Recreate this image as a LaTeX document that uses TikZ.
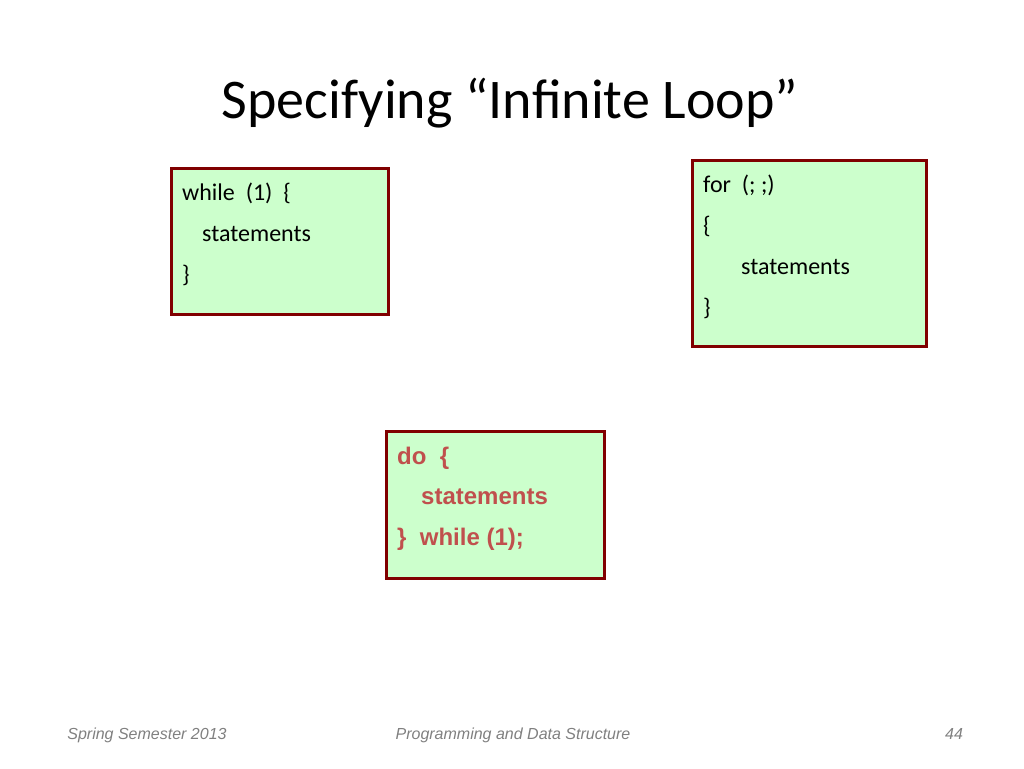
\documentclass[tikz,border=0pt]{standalone}
\usepackage{fontspec}
\setmainfont{Carlito}
\newfontfamily\arial{Liberation Sans}
\begin{document}
\begin{tikzpicture}[x=1pt,y=-1pt,
  box/.style={draw=red!50!black,line width=3pt,fill={rgb,255:red,204;green,255;blue,204}},
  code/.style={anchor=base west,font=\fontsize{24}{24}\selectfont,inner sep=0pt},
  dcode/.style={anchor=base west,font=\arial\bfseries\fontsize{24}{24}\selectfont,text={rgb,255:red,192;green,80;blue,77},inner sep=0pt},
  foot/.style={font=\arial\itshape\fontsize{16}{16}\selectfont,text=gray,inner sep=0pt,anchor=base}]
\useasboundingbox (0,0) rectangle (1024,768);
\node[anchor=base,font=\fontsize{56}{56}\selectfont,inner sep=0pt] (title) at (510,118) {Specifying “Infinite Loop”};
\draw[box] (171,168) rectangle (388,314);
\node[code] (w1) at (182,200) {while\ \ (1)\ \ \{};
\node[code] (w2) at (202,241) {statements};
\node[code] (w3) at (182,282) {\}};
\draw[box] (692,160) rectangle (926,346);
\node[code] (f1) at (703,192) {for\ \ (; ;)};
\node[code] (f2) at (703,233) {\{};
\node[code] (f3) at (741,274) {statements};
\node[code] (f4) at (703,315) {\}};
\draw[box] (386,431) rectangle (604,578);
\node[dcode] (d1) at (397,464) {do\ \ \{};
\node[dcode] (d2) at (421,504) {statements};
\node[dcode] (d3) at (397,545) {\}\ \ while (1);};
\node[foot] (ft1) at (147,739) {Spring Semester 2013};
\node[foot] (ft2) at (513,739) {Programming and Data Structure};
\node[foot] (ft3) at (954,739) {44};
\end{tikzpicture}
\end{document}
